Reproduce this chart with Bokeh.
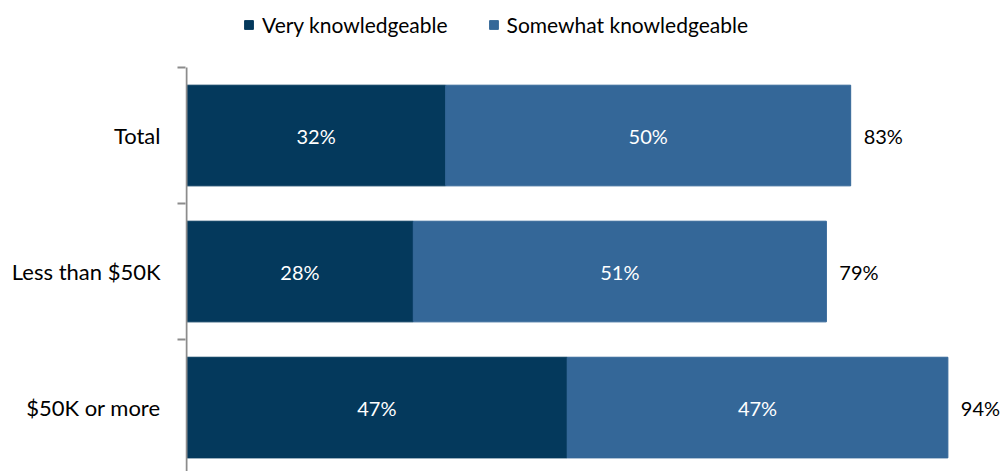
from bokeh.plotting import figure
from bokeh.models import (ColumnDataSource, Range1d, FixedTicker, Legend, LegendItem)
from bokeh.core.properties import value
from bokeh.embed import file_html
from bokeh.resources import INLINE

categories = ["Total", "Less than $50K", "$50K or more"]
very = [32, 28, 47]
somewhat = [50, 51, 47]
net = [83, 79, 94]
series_names = ["Very knowledgeable", "Somewhat knowledgeable"]

DARK = "#04395c"
MID = "#346798"
AXIS = "#8c8c8c"
FONT = "Lato"

n = len(categories)
ypos = list(range(n))
left2 = very
right2 = [a + b for a, b in zip(very, somewhat)]

src = ColumnDataSource(dict(
    y=ypos,
    very=very,
    somewhat=somewhat,
    zero=[0] * n,
    left2=left2,
    right2=right2,
    mid1=[v / 2 for v in very],
    mid2=[a + b / 2 for a, b in zip(very, somewhat)],
    lab1=[f"{v}%" for v in very],
    lab2=[f"{v}%" for v in somewhat],
    labn=[f"{v}%" for v in net],
    tx=[r + 1.6 for r in right2],
))

PX = 8.1     # pixels per percentage point
BAND = 136.0  # pixels per category band

p = figure(width=1001, height=471, output_backend="svg", toolbar_location=None,
           x_range=Range1d(-1 / PX, 100.62),
           y_range=Range1d(2.47, -0.5 - 67 / BAND),
           min_border_left=185, min_border_top=0, min_border_bottom=0,
           min_border_right=0)
p.outline_line_color = None
p.xgrid.visible = False
p.ygrid.visible = False
p.xaxis.visible = False

r1 = p.hbar(y="y", left="zero", right="very", height=0.74, source=src,
            fill_color=DARK, line_color=DARK)
r2 = p.hbar(y="y", left="left2", right="right2", height=0.74, source=src,
            fill_color=MID, line_color=MID)

# vertical category axis line (starts at the top category boundary)
p.segment(x0=[0], y0=[-0.5], x1=[0], y1=[n - 0.5], line_color=AXIS, line_width=2)

p.text(x="mid1", y="y", text="lab1", source=src, text_color="white",
       text_align="center", text_baseline="middle", text_font=value(FONT),
       text_font_size="20px")
p.text(x="mid2", y="y", text="lab2", source=src, text_color="white",
       text_align="center", text_baseline="middle", text_font=value(FONT),
       text_font_size="20px")
p.text(x="tx", y="y", text="labn", source=src, text_color="black",
       text_align="left", text_baseline="middle", text_font=value(FONT),
       text_font_size="20px")

yax = p.yaxis[0]
yax.ticker = FixedTicker(ticks=ypos, minor_ticks=[i - 0.5 for i in range(n + 1)])
yax.major_label_overrides = {i: c for i, c in enumerate(categories)}
yax.axis_line_color = None
yax.major_tick_line_color = None
yax.major_tick_out = 0
yax.major_tick_in = 0
yax.minor_tick_line_color = AXIS
yax.minor_tick_line_width = 2
yax.minor_tick_out = 8
yax.minor_tick_in = 0
yax.major_label_standoff = 17
yax.major_label_text_font = FONT
yax.major_label_text_font_size = "22px"
yax.major_label_text_color = "black"

legend = Legend(items=[LegendItem(label=series_names[0], renderers=[r1]),
                       LegendItem(label=series_names[1], renderers=[r2])],
                orientation="horizontal", location=(58, 434),
                glyph_width=11, glyph_height=11,
                label_text_font=FONT, label_text_font_size="21px",
                label_text_color="black",
                label_standoff=8, spacing=40, padding=0, margin=0,
                border_line_color=None, background_fill_alpha=0)
p.add_layout(legend, "center")

open("out.html", "w").write(file_html(p, INLINE))
